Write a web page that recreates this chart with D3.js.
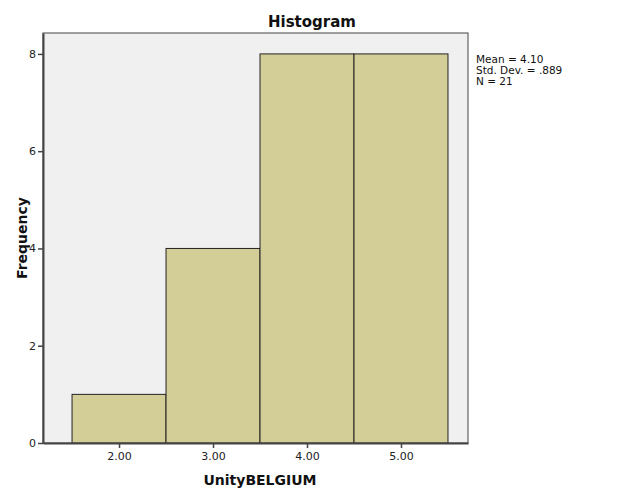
<!DOCTYPE html>
<html><head><meta charset="utf-8">
<script src="https://cdn.jsdelivr.net/npm/d3@7"></script>
<style>body{margin:0;background:#fff;} text{font-family:"DejaVu Sans",sans-serif;}</style>
</head><body>
<svg id="c" width="626" height="501"></svg>
<script>
const binStarts = [1.5, 2.5, 3.5, 4.5];
const binEnds = [2.5, 3.5, 4.5, 5.5];
const counts = [1, 4, 8, 8];
const xTicks = [2, 3, 4, 5];
const yTicks = [0, 2, 4, 6, 8];
const statsLines = ["Mean = 4.10", "Std. Dev. = .889", "N = 21"];

const svg = d3.select("#c");
const L = 43, R = 468, T = 33, B = 443;
const x = d3.scaleLinear().domain([1.191, 5.713]).range([L, R]);
const y = d3.scaleLinear().domain([0, 8.43]).range([B, T]);

svg.append("rect").attr("x", L).attr("y", T).attr("width", R - L).attr("height", B - T)
  .attr("fill", "#f0f0f0").attr("stroke", "#444").attr("stroke-width", 1);

svg.selectAll("rect.bar").data(counts).enter().append("rect").attr("class", "bar")
  .attr("x", (d, i) => x(binStarts[i]))
  .attr("width", (d, i) => x(binEnds[i]) - x(binStarts[i]))
  .attr("y", d => y(d))
  .attr("height", d => B - y(d))
  .attr("fill", "#d3ce97").attr("stroke", "#222").attr("stroke-width", 1);

const xa = svg.append("g").attr("transform", `translate(0,${B})`)
  .call(d3.axisBottom(x).tickValues(xTicks).tickFormat(d3.format(".2f")).tickSize(5).tickSizeOuter(0).tickPadding(4));
const ya = svg.append("g").attr("transform", `translate(${L},0)`)
  .call(d3.axisLeft(y).tickValues(yTicks).tickFormat(d3.format("d")).tickSize(5).tickSizeOuter(0).tickPadding(2));
[xa, ya].forEach(a => {
  a.select(".domain").attr("stroke", "#444").attr("stroke-width", 2);
  a.selectAll(".tick line").attr("stroke", "#444").attr("stroke-width", 1.5);
  a.selectAll(".tick text").attr("fill", "#222").style("font-size", "11px").style("font-family", "DejaVu Sans, sans-serif");
});

svg.append("text").attr("x", 312).attr("y", 27).attr("text-anchor", "middle")
  .style("font-size", "15px").style("font-weight", "bold").attr("fill", "#111").text("Histogram");
svg.append("text").attr("x", 260).attr("y", 485).attr("text-anchor", "middle")
  .style("font-size", "14px").style("font-weight", "bold").attr("fill", "#111").text("UnityBELGIUM");
svg.append("text").attr("transform", "translate(27,238) rotate(-90)").attr("text-anchor", "middle")
  .style("font-size", "14px").style("font-weight", "bold").attr("fill", "#111").text("Frequency");

svg.selectAll("text.stat").data(statsLines).enter().append("text").attr("class", "stat")
  .attr("x", 476).attr("y", (d, i) => 63 + i * 11)
  .style("font-size", "10.5px").attr("fill", "#111").text(d => d);
</script>
</body></html>
